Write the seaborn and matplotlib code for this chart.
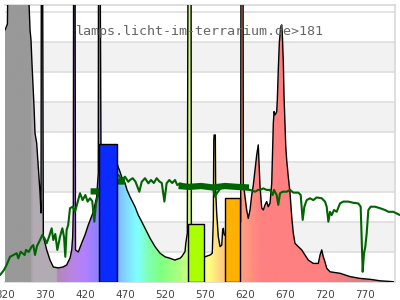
import numpy as np
import matplotlib
matplotlib.use("Agg")
import matplotlib.pyplot as plt
import seaborn as sns
from matplotlib.colors import LinearSegmentedColormap, Normalize
from matplotlib.patches import PathPatch

# ---------------- data ----------------
title = "lamps.licht-im-terrarium.de>181"
tick_vals = [320, 370, 420, 470, 520, 570, 620, 670, 720, 770]
tick_labels = ["320", "370", "420", "470", "520", "570", "620", "670", "720", "770"]

# lamp spectrum (relative, 12 = off scale)
spec_wl = [320, 321.5, 323, 324.3, 349, 350, 351.3, 352.5, 353.8, 355, 356.3, 357.5,
           359.6, 361.6, 363.8, 365, 365.5, 366.9, 367.9, 370, 372.1, 376.3, 380.4,
           386.6, 392.5, 397.1, 401.3, 403.4, 404.6, 405.4, 405.8, 407.5, 408.1, 411.6,
           415.9, 420, 424.1, 430.4, 434.6, 436.6, 436.9, 438.7, 440, 445, 452, 459.6,
           461.6, 463.8, 465.9, 467.9, 470, 472.5, 476.3, 482.5, 486.6, 490.9, 495,
           501.3, 507.5, 513.8, 520, 526.3, 532.5, 535, 538.8, 541, 545, 546, 547.9,
           548.9, 552.5, 553, 560, 569, 570, 576.3, 579.1, 580.4, 581.0, 581.4, 582.9,
           583.3, 584.6, 586.6, 588.8, 590.9, 592.1, 592.9, 594.1, 600, 607, 614.6,
           615, 617.5, 617.9, 620, 622.1, 624.1, 626.3, 628.4, 630.4, 632.5, 634.6,
           636.6, 638.8, 640.9, 642.9, 645, 647.1, 649.1, 651.3, 653.4, 654.6, 655.4,
           656.3, 657.5, 659.6, 660.4, 661.6, 662.9, 664.6, 665.9, 666.6, 667.9, 668.8,
           670, 670.9, 672.1, 674.1, 676.3, 678.4, 680.4, 682.5, 686.6, 690.9, 695,
           699.1, 705.4, 711.6, 713.8, 715.9, 717.9, 720, 722.1, 726.3, 738.8, 751.3,
           763.8, 776.3, 788.8, 805.4]
spec_val = [8.4, 8.5, 8.6, 12, 12, 9.3, 8.4, 8.07, 7.23, 6.57, 5.83, 4.97,
            4.63, 3.83, 2.97, 2.3, 12, 12, 1.5, 1.3, 1.07, 0.73, 0.5,
            0.47, 0.5, 0.57, 0.8, 1.07, 1.5, 2.4, 12, 12, 1.07, 1.0,
            1.3, 1.57, 1.9, 2.34, 2.84, 3.63, 12, 12, 4.5, 4.3, 4.1, 4.0,
            3.83, 3.67, 3.5, 3.4, 3.3, 3.07, 2.84, 2.51, 2.23, 2.01, 1.79,
            1.46, 1.18, 0.96, 0.84, 0.79, 0.73, 0.76, 0.79, 0.85, 1.01, 1.29, 1.63,
            12, 12, 1.0, 0.9, 0.85, 0.84, 0.9, 0.96, 2.07, 4.73, 4.9, 4.9,
            3.07, 2.3, 1.51, 1.18, 1.23, 1.73, 1.79, 1.57, 1.5, 1.7, 2.0,
            12, 12, 3.29, 2.84, 2.4, 2.12, 2.4, 2.9, 3.23, 3.73, 4.23,
            4.57, 3.18, 2.47, 2.4, 2.57, 2.68, 2.51, 2.63, 3.29, 4.5, 5.29,
            5.68, 5.57, 5.67, 6.07, 7.07, 7.97, 8.51, 8.57, 8.3, 7.34, 6.18,
            5.29, 4.57, 4.07, 3.51, 2.96, 2.18, 1.62, 1.29, 1.18, 1.07, 0.9,
            0.73, 0.62, 0.62, 0.9, 1.07, 0.84, 0.67, 0.46, 0.34, 0.29, 0.18,
            0.12, 0.09, 0.04, 0.01]

# green curve
g_wl = [313.75, 318.75, 322, 326.25, 330.4, 334.6, 336.6, 339.6, 344.6, 346.25,
        349.6, 353.3, 355.4, 357.5, 360, 363.75, 366.7, 369.5, 372, 375,
        378.3, 380.4, 382.9, 385.4, 388.75, 391.7, 393.8, 395.4, 397, 399,
        401.25, 404.6, 407.5, 410.4, 413.75, 417, 420.4, 423.3, 426.25, 429,
        431.7, 433.75, 435.8, 437.9, 445, 452, 461.7, 465.9, 470, 474.2,
        476.25, 479.6, 483, 487.9, 490.9, 495, 499.2, 502.5, 506, 509.6,
        513, 516, 519.2, 522, 525.4, 529, 532.5, 535.4, 538.75, 550,
        560, 570, 580, 582, 590, 600, 610, 620, 626.25, 632.5,
        636.6, 638.75, 642.9, 647, 651.25, 654.6, 656.25, 659.6, 661.6, 663.75,
        667.1, 672.1, 676.25, 680.4, 686.6, 689.6, 692.1, 694.2, 697.1, 701.25,
        705.4, 709.6, 715.9, 720, 722.1, 724.2, 726.25, 728.4, 731.25, 734.6,
        738.75, 742.9, 749.2, 755.4, 761.6, 764.6, 765.9, 767.1, 768.75, 770.4,
        772.1, 774.2, 777.1, 782.5, 788.75, 795, 799.2, 805.4, 813.75]
g_val = [0.23, 0.4, 0.57, 0.84, 0.9, 0.96, 0.79, 1.01, 0.9, 1.07,
         1.0, 1.18, 1.23, 0.9, 1.2, 1.4, 1.57, 1.45, 1.29, 1.5,
         1.79, 1.4, 1.6, 1.07, 1.51, 1.79, 1.5, 0.84, 1.73, 1.9,
         2.46, 2.51, 2.34, 2.62, 2.96, 2.73, 2.9, 2.68, 2.79, 2.7,
         2.01, 2.62, 2.84, 3.01, 3.2, 3.3, 3.57, 3.4, 3.51, 3.34,
         3.4, 3.46, 3.35, 3.01, 3.34, 3.46, 3.29, 3.4, 3.3, 3.46,
         3.35, 3.3, 2.68, 3.29, 3.4, 3.3, 3.4, 3.23, 3.29, 3.2,
         3.15, 3.2, 3.2, 2.85, 3.15, 3.2, 3.15, 3.1, 3.07, 3.01,
         3.07, 3.07, 3.12, 3.07, 3.07, 2.9, 3.07, 2.9, 2.57, 2.96,
         3.01, 3.01, 3.07, 2.98, 2.98, 2.9, 2.07, 2.51, 2.73, 2.79,
         2.73, 2.82, 2.79, 2.68, 2.51, 2.01, 2.34, 2.23, 2.4, 2.34,
         2.62, 2.68, 2.68, 2.64, 2.62, 2.51, 1.4, 0.34, 0.96, 1.18,
         1.62, 2.4, 2.51, 2.51, 2.46, 2.4, 2.34, 2.34, 2.23]

# thick green segments
thick1_wl = [427, 438, 460, 470]
thick1_val = [3.02, 3.02, 3.35, 3.35]
thick2_wl = [537, 550, 565, 580, 595, 610, 625]
thick2_val = [3.2, 3.17, 3.2, 3.15, 3.2, 3.17, 3.15]

# bars
bar_left = [437.9, 549.1, 594.6]
bar_width = [21.7, 20.0, 19.5]
bar_height = [4.59, 1.92, 2.79]
bar_colors = ["#0a2aff", "#aaff00", "#ffb000"]

# fill colour stops (wavelength, colour)
stop_wl = [320, 352.4, 352.6, 383.6, 383.8, 405, 420, 440, 458, 475, 485, 500, 515,
           535, 555, 575, 590, 605, 625, 640, 720, 770, 808]
stop_col = ["#999999", "#999999", "#b3abb3", "#b3abb3", "#b486b4", "#b884e8", "#b080ff",
            "#8080ff", "#80b0ff", "#80e6ff", "#80ffff", "#80ffb0", "#80ff80",
            "#a8ff80", "#d9ff80", "#ffff80", "#ffd080", "#ffb080", "#ff9480",
            "#ff8080", "#ff8080", "#d88080", "#b89898"]

# ---------------- plot ----------------
sns.set_style("white")
fig = plt.figure(figsize=(4, 3), dpi=100)
ax = fig.add_axes([5 / 400, 18 / 300, 390 / 400, 277 / 300])

ymax = 277 / 30
for lo in (1, 3, 5, 7):
    ax.axhspan(lo, lo + 1, color="#f2f2f2", lw=0, zorder=0)
for k in range(1, 10):
    ax.axhline(k, color="#dedede", lw=1.2, zorder=0.5)

lo_wl, hi_wl = stop_wl[0], stop_wl[-1]
cmap = LinearSegmentedColormap.from_list(
    "spec", [((w - lo_wl) / (hi_wl - lo_wl), c) for w, c in zip(stop_wl, stop_col)])
grad = np.linspace(lo_wl, hi_wl, 1000)[np.newaxis, :]
img = ax.imshow(grad, extent=[lo_wl, hi_wl, 0, 12], aspect="auto", cmap=cmap,
                norm=Normalize(lo_wl, hi_wl), origin="lower", zorder=1,
                interpolation="bilinear")
poly = ax.fill_between(spec_wl, 0, spec_val, facecolor="none", edgecolor="none", zorder=1)
patch = PathPatch(poly.get_paths()[0], transform=ax.transData,
                  facecolor="none", edgecolor="none")
ax.add_patch(patch)
img.set_clip_path(patch)

sns.lineplot(x=spec_wl, y=spec_val, sort=False, estimator=None, color="black",
             lw=1.0, zorder=2, ax=ax)
sns.lineplot(x=g_wl, y=g_val, sort=False, estimator=None, color="#006400",
             lw=1.5, zorder=3, clip_on=False, ax=ax)
for tw, tv in ((thick1_wl, thick1_val), (thick2_wl, thick2_val)):
    sns.lineplot(x=tw, y=tv, sort=False, estimator=None, color="#006400",
                 lw=4.5, zorder=3, solid_capstyle="butt", ax=ax)

ax.bar(bar_left, bar_height, width=bar_width, align="edge", color=bar_colors,
       edgecolor="black", lw=1, zorder=4)

ax.set_xlim(320, 807.5)
ax.set_ylim(0, ymax)
ax.set_xticks(tick_vals)
ax.set_xticklabels(tick_labels)
ax.set_yticks([])
ax.tick_params(axis="x", length=0, pad=6, labelsize=7.5, colors="#444444")
for side in ("top", "right", "bottom"):
    ax.spines[side].set_color("#d8d8d8")
    ax.spines[side].set_linewidth(1.2)
    ax.spines[side].set_zorder(0.6)
ax.spines["left"].set_visible(False)
ax.set_xlabel("")
ax.set_ylabel("")

fig.text(0.5, 1 - 35 / 300, title, ha="center", va="baseline", fontsize=9.6,
         family="DejaVu Sans Mono", color="#666666", zorder=10)

fig.savefig("out.png", dpi=100)
